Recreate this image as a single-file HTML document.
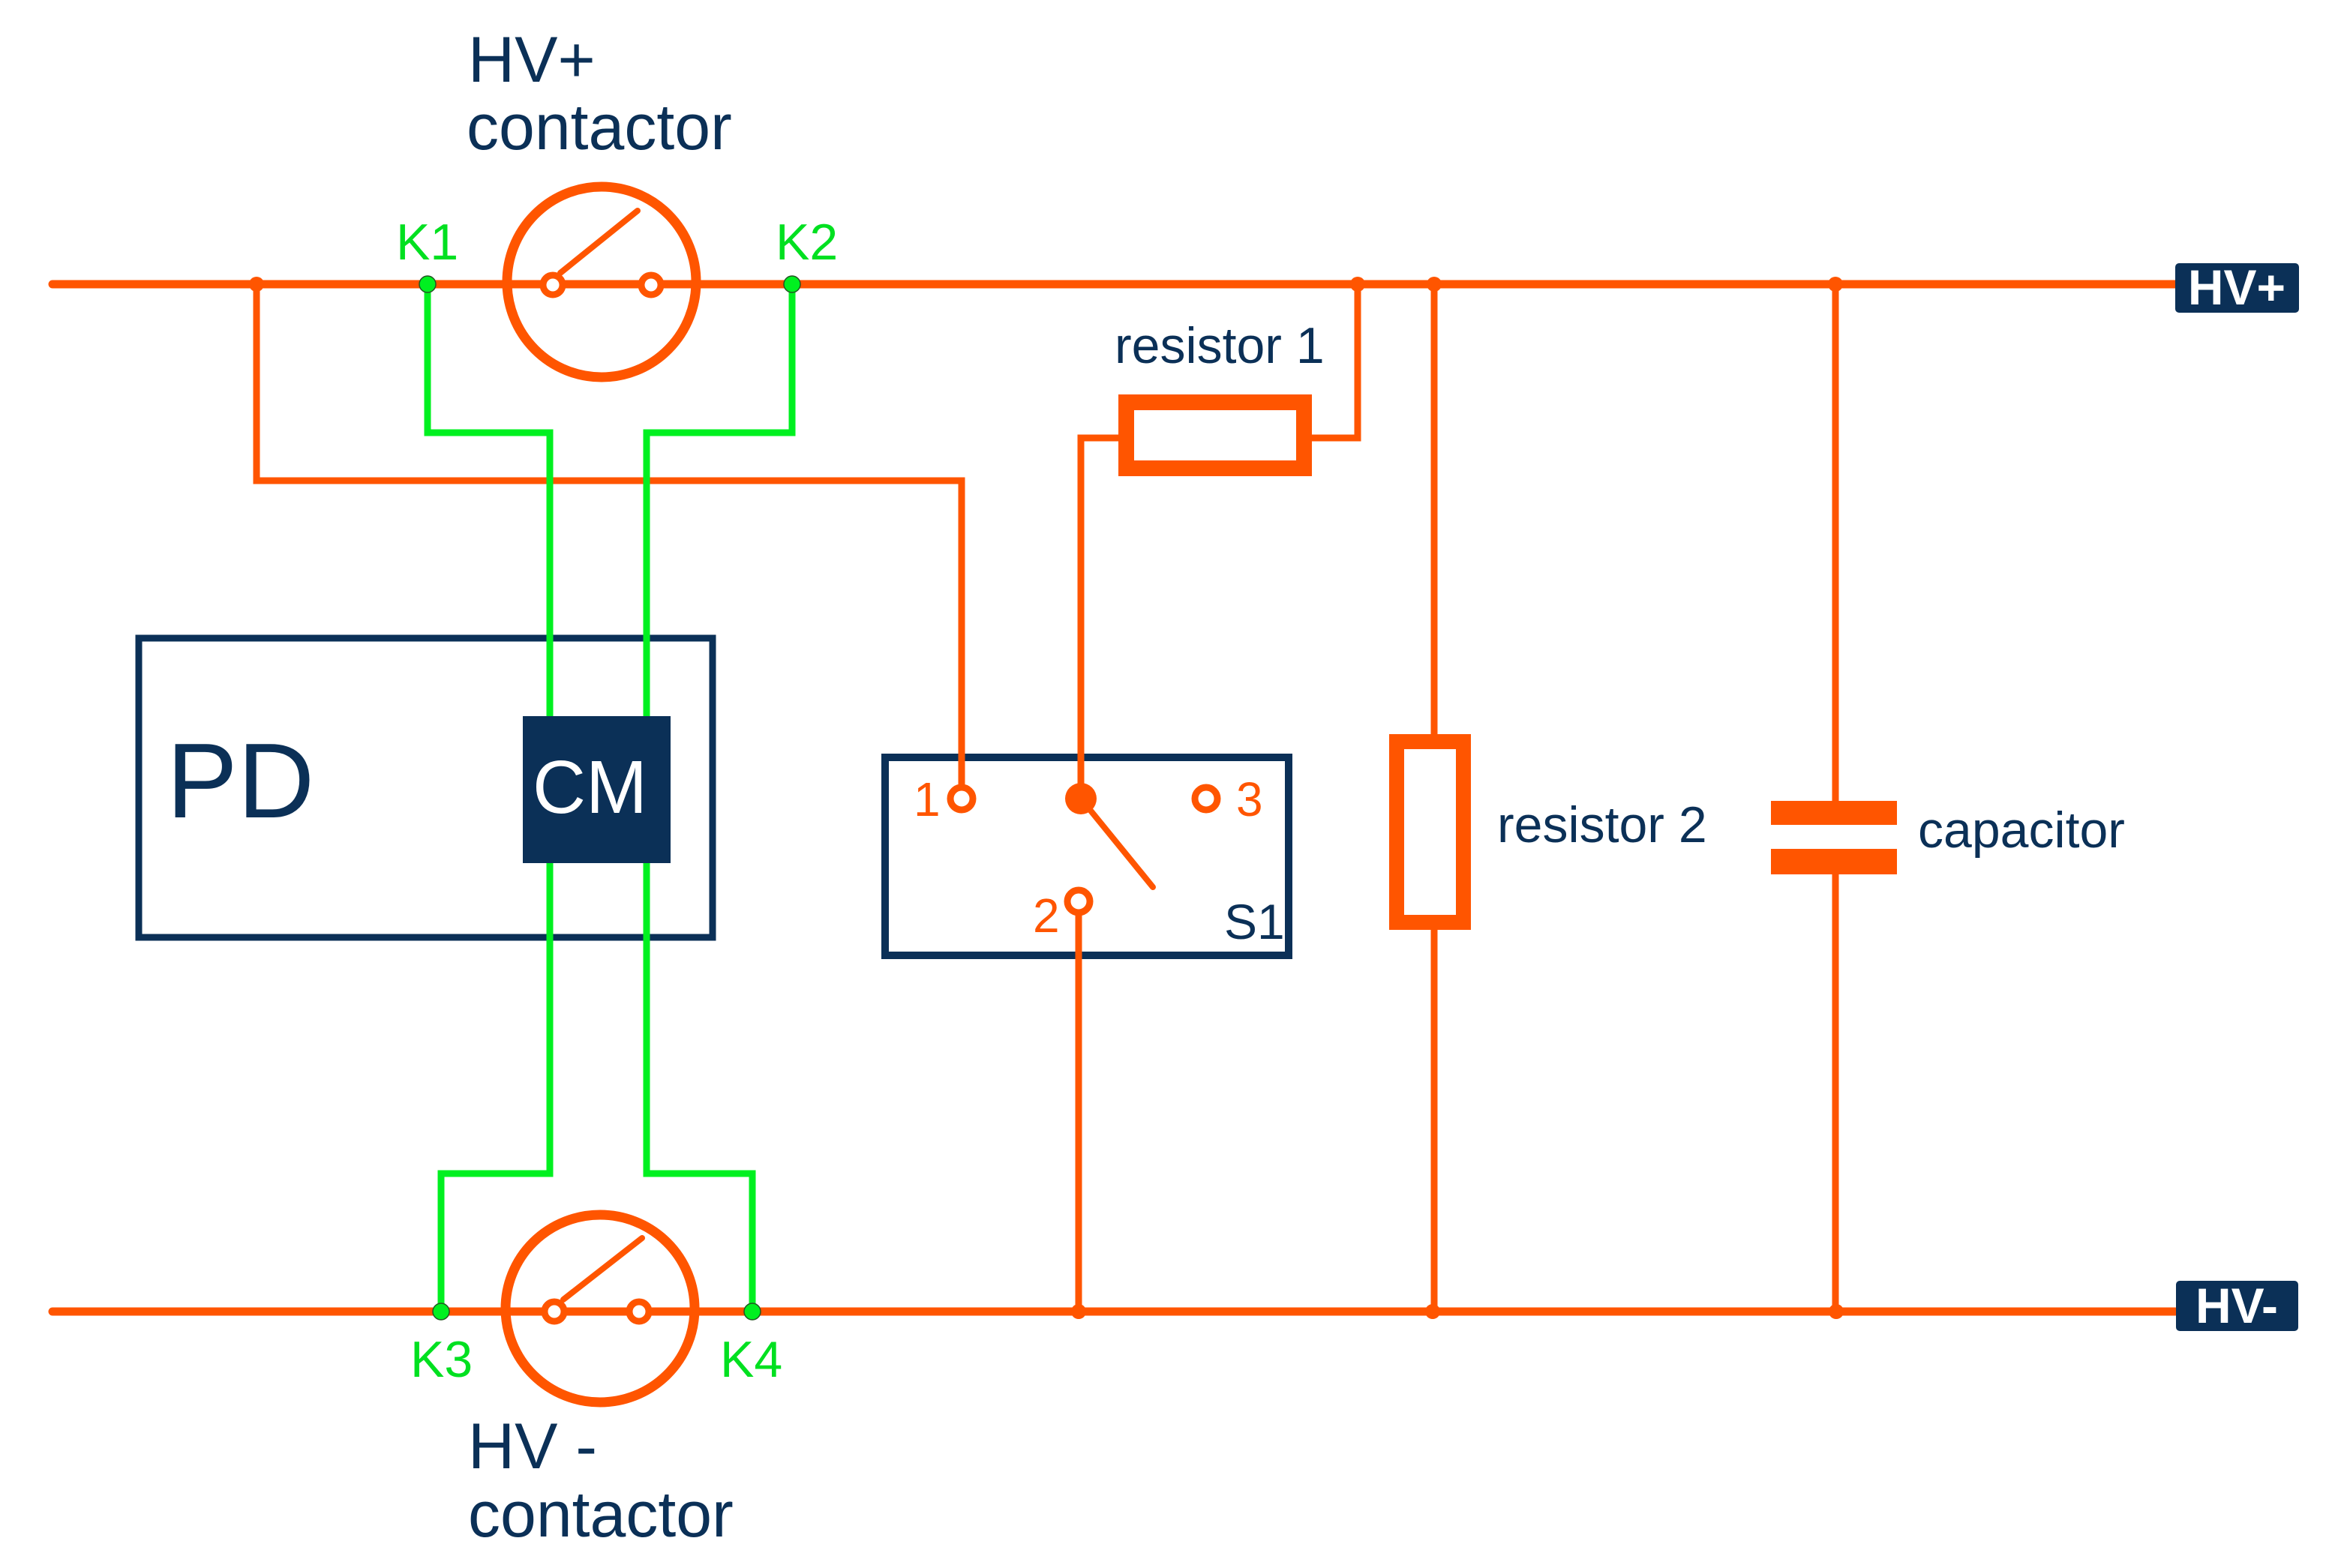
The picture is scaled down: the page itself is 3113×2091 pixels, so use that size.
<!DOCTYPE html>
<html><head><meta charset="utf-8"><style>
html,body{margin:0;padding:0;background:#fff;}
svg{display:block;}
text{font-family:"Liberation Sans",Arial,sans-serif;}
</style></head><body>
<svg width="3113" height="2091" viewBox="0 0 3113 2091" xmlns="http://www.w3.org/2000/svg">
<rect width="3113" height="2091" fill="#fff"/>
<g fill="none" stroke="#ff5500" stroke-linecap="round" stroke-linejoin="miter">
  <!-- buses -->
  <line x1="70" y1="379" x2="2900" y2="379" stroke-width="11"/>
  <line x1="70" y1="1749" x2="2900" y2="1749" stroke-width="11"/>
  <!-- wire to S1 terminal 1 -->
  <polyline points="342,379 342,641 1282,641 1282,1046" stroke-width="9"/>
  <!-- resistor 1 wiring -->
  <polyline points="1810,379 1810,584 1749,584" stroke-width="9"/>
  <polyline points="1491,584 1441,584 1441,1065" stroke-width="9"/>
  <rect x="1501.5" y="536.5" width="237" height="88" stroke-width="21" stroke-linecap="butt"/>
  <!-- S1 terminal 2 to bus -->
  <line x1="1438" y1="1221" x2="1438" y2="1749" stroke-width="9"/>
  <!-- resistor 2 -->
  <line x1="1912" y1="379" x2="1912" y2="989" stroke-width="9"/>
  <line x1="1912" y1="1230" x2="1912" y2="1749" stroke-width="9"/>
  <rect x="1862" y="989" width="89" height="241" stroke-width="20" stroke-linecap="butt"/>
  <!-- capacitor -->
  <line x1="2447" y1="379" x2="2447" y2="1068" stroke-width="9"/>
  <line x1="2447" y1="1166" x2="2447" y2="1749" stroke-width="9"/>
  <!-- contactors -->
  <ellipse cx="802" cy="376" rx="126" ry="127" stroke-width="13"/>
  <ellipse cx="800" cy="1745" rx="126" ry="125" stroke-width="13"/>
  <line x1="747" y1="364" x2="850" y2="281" stroke-width="8"/>
  <line x1="751" y1="1733" x2="856" y2="1651" stroke-width="8"/>
  <!-- S1 lever -->
  <line x1="1441" y1="1065" x2="1537" y2="1183" stroke-width="8"/>
</g>
<!-- capacitor plates -->
<rect x="2361" y="1068" width="168" height="32" fill="#ff5500"/>
<rect x="2361" y="1132" width="168" height="34" fill="#ff5500"/>
<!-- contact circles -->
<g fill="#fff" stroke="#ff5500" stroke-width="9">
  <circle cx="737" cy="380" r="13"/>
  <circle cx="868" cy="380" r="13"/>
  <circle cx="739" cy="1749" r="13"/>
  <circle cx="852" cy="1749" r="13"/>
  <circle cx="1282" cy="1065" r="15"/>
  <circle cx="1608" cy="1065" r="15"/>
  <circle cx="1438" cy="1202" r="15"/>
</g>
<circle cx="1441" cy="1065" r="21" fill="#ff5500"/>
<!-- junction dots -->
<g fill="#ff5500">
  <circle cx="342" cy="379" r="10"/>
  <circle cx="1810" cy="379" r="10"/>
  <circle cx="1912" cy="379" r="10"/>
  <circle cx="2447" cy="379" r="10"/>
  <circle cx="1438" cy="1749" r="10"/>
  <circle cx="1910" cy="1749" r="10"/>
  <circle cx="2448" cy="1749" r="10"/>
</g>
<!-- green control wires -->
<g fill="none" stroke="#00f020" stroke-width="9" stroke-linejoin="miter">
  <polyline points="570,379 570,577 733,577 733,1565 588,1565 588,1749"/>
  <polyline points="1056,379 1056,577 862,577 862,1565 1003,1565 1003,1749"/>
</g>
<g fill="#00f020" stroke="#225522" stroke-width="1.5">
  <circle cx="570" cy="379" r="11"/>
  <circle cx="1056" cy="379" r="11"/>
  <circle cx="588" cy="1749" r="11"/>
  <circle cx="1003" cy="1749" r="11"/>
</g>
<!-- PD box -->
<rect x="185" y="851" width="765" height="399" fill="none" stroke="#0b3057" stroke-width="9"/>
<rect x="697" y="955" width="197" height="196" fill="#0b3057"/>
<!-- redraw green over PD outline (green passes over box) -->
<g stroke="#00f020" stroke-width="9">
  <line x1="733" y1="840" x2="733" y2="955"/>
  <line x1="862" y1="840" x2="862" y2="955"/>
  <line x1="733" y1="1151" x2="733" y2="1262"/>
  <line x1="862" y1="1151" x2="862" y2="1262"/>
</g>
<text x="222" y="1090" font-size="142" fill="#0b3057">PD</text>
<text x="710" y="1084" font-size="100" fill="#fff" textLength="153" lengthAdjust="spacingAndGlyphs">CM</text>
<!-- S1 box -->
<rect x="1180" y="1010" width="538" height="264" fill="none" stroke="#0b3057" stroke-width="10"/>
<line x1="1282" y1="1005" x2="1282" y2="1046" stroke="#ff5500" stroke-width="9"/>
<line x1="1441" y1="1005" x2="1441" y2="1050" stroke="#ff5500" stroke-width="9"/>
<line x1="1438" y1="1221" x2="1438" y2="1285" stroke="#ff5500" stroke-width="9"/>
<!-- labels -->
<g fill="#ff5500" font-size="64">
  <text x="1218" y="1088">1</text>
  <text x="1648" y="1088">3</text>
  <text x="1377" y="1243">2</text>
</g>
<text x="1632" y="1252" font-size="66" fill="#0b3057">S1</text>
<g fill="#00e020" font-size="68">
  <text x="528" y="346">K1</text>
  <text x="1034" y="346">K2</text>
  <text x="547" y="1836">K3</text>
  <text x="960" y="1836">K4</text>
</g>
<g fill="#0b3057" font-size="86">
  <text x="624" y="109">HV+</text>
  <text x="622" y="199">contactor</text>
  <text x="624" y="1958">HV -</text>
  <text x="624" y="2049">contactor</text>
</g>
<g fill="#0b3057" font-size="68">
  <text x="1486" y="484">resistor 1</text>
  <text x="1996" y="1123">resistor 2</text>
  <text x="2557" y="1130">capacitor</text>
</g>
<!-- HV terminals -->
<rect x="2900" y="351" width="165" height="66" rx="5" fill="#0b3057"/>
<text x="2982" y="406" font-size="66" font-weight="bold" fill="#fff" text-anchor="middle">HV+</text>
<rect x="2901" y="1708" width="163" height="67" rx="5" fill="#0b3057"/>
<text x="2982" y="1764" font-size="66" font-weight="bold" fill="#fff" text-anchor="middle">HV-</text>
</svg>
</body></html>
